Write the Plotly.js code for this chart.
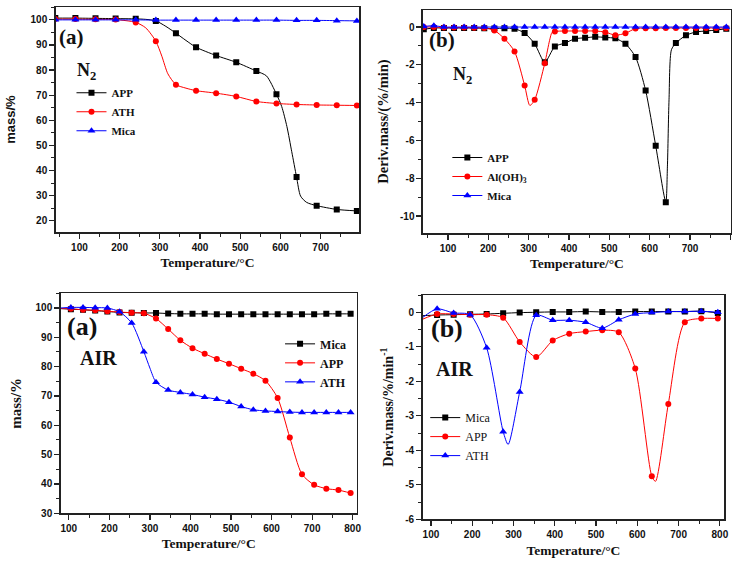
<!DOCTYPE html>
<html>
<head>
<meta charset="utf-8">
<script src="https://cdn.plot.ly/plotly-3.0.1.min.js"></script>
<style>
  body { margin: 0; background: #fff; }
  #chart { width: 737px; height: 563px; }
</style>
</head>
<body>
<div id="chart"></div>
<script>
// TG / DTG curves of APP, ATH and Mica under N2 and air

// (a) N2, mass %
const tgN2Temp = [40, 90, 140, 190, 240, 290, 340, 390, 440, 490, 540, 590, 640, 690, 740, 790];
const tgN2App = [100.7, 100.7, 100.6, 100.5, 100.4, 99.6, 94.7, 89.1, 85.8, 83.1, 79.6, 70.4, 37.4, 26.0, 24.5, 23.9];
const tgN2Ath = [100.3, 100.3, 100.2, 100.1, 99.0, 91.5, 74.2, 71.8, 70.8, 69.5, 67.5, 66.7, 66.3, 66.1, 66.0, 65.9];
const tgN2Mica = [100.0, 100.0, 100.0, 100.0, 100.0, 99.9, 99.9, 99.9, 99.9, 99.9, 99.9, 99.9, 99.8, 99.8, 99.7, 99.6];
// extra readings of the curves between the symbols
const tgN2AppMidT = [265, 315, 365, 565, 603, 616, 628, 650, 665];
const tgN2AppMid = [100.2, 97.4, 91.8, 77.7, 65.5, 57.5, 47.5, 29.8, 27.3];
const tgN2AthMidT = [265, 305, 320, 365];
const tgN2AthMid = [96.8, 85.5, 78.5, 72.8];

// (b) N2, derivative
const dtgN2Temp = [40, 65, 90, 115, 140, 165, 190, 215, 240, 265, 290, 315, 340, 365, 390, 415,
  440, 465, 490, 515, 540, 565, 590, 615, 640, 665, 690, 715, 740, 765, 790];
const dtgN2App = [-0.12, -0.05, -0.05, -0.05, -0.05, -0.05, -0.07, -0.08, -0.06, -0.09, -0.32, -0.89, -1.86, -1.03, -0.85, -0.62,
  -0.57, -0.52, -0.55, -0.60, -0.89, -1.59, -3.36, -6.28, -9.27, -0.85, -0.44, -0.26, -0.21, -0.16, -0.09];
const dtgN2Ath = [0.0, 0.0, -0.03, -0.03, -0.03, -0.04, -0.05, -0.18, -0.62, -1.29, -3.09, -3.85, -1.91, -0.23, -0.21, -0.21,
  -0.21, -0.21, -0.27, -0.43, -0.33, -0.08, -0.06, -0.06, -0.05, -0.05, -0.05, -0.05, -0.05, -0.05, -0.05];
const dtgN2Mica = [0.03, 0.07, 0.0, 0.0, 0.0, 0.0, 0.0, 0.0, 0.0, 0.0, 0.0, 0.0, 0.0, 0.0, 0.0, 0.0,
  0.0, 0.0, 0.0, 0.0, 0.0, 0.0, 0.0, 0.0, 0.0, 0.0, 0.0, 0.0, 0.0, 0.0, 0.0];
const dtgN2AppMidT = [644, 648, 654];
const dtgN2AppMid = [-7.4, -3.85, -1.2];
const dtgN2AthMidT = [303, 352, 358];
const dtgN2AthMid = [-4.15, -0.7, -0.28];

// (a) air, mass %
const tgAirTemp = [105, 135, 165, 195, 225, 255, 285, 315, 345, 375, 405, 435, 465, 495, 525, 555, 585, 615, 645, 675, 705, 735, 765, 795];
const tgAirMica = [99.6, 99.4, 99.1, 98.8, 98.5, 98.4, 98.3, 98.3, 98.1, 98.0, 98.0, 98.0, 97.9, 97.9, 97.9, 97.9, 97.9, 97.9, 97.9, 97.9, 97.9, 98.0, 98.0, 98.0];
const tgAirApp = [99.7, 99.4, 99.2, 98.9, 98.6, 98.4, 98.2, 96.4, 92.8, 89.0, 86.3, 84.4, 82.6, 81.0, 79.3, 77.6, 75.2, 69.3, 55.8, 43.3, 39.7, 38.4, 37.9, 36.9];
const tgAirAth = [100.2, 100.2, 100.1, 100.0, 98.7, 94.9, 85.1, 74.7, 72.0, 71.2, 70.5, 69.6, 68.9, 67.9, 66.4, 65.3, 64.9, 64.7, 64.5, 64.4, 64.4, 64.4, 64.4, 64.4];
const tgAirMicaMidT = [80];
const tgAirMicaMid = [99.8];
const tgAirAppMidT = [80];
const tgAirAppMid = [99.8];
const tgAirAthMidT = [80, 300];
const tgAirAthMid = [100.0, 79.5];

// (b) air, derivative
const dtgAirTemp = [115, 155, 195, 235, 275, 315, 355, 395, 435, 475, 515, 555, 595, 635, 675, 715, 755, 795];
const dtgAirMica = [-0.08, -0.07, -0.06, -0.05, -0.03, -0.01, 0.0, 0.01, 0.01, 0.02, 0.01, 0.01, 0.02, 0.02, 0.02, 0.02, 0.03, -0.02];
const dtgAirApp = [-0.05, -0.05, -0.07, -0.07, -0.16, -0.86, -1.30, -0.82, -0.62, -0.56, -0.52, -0.58, -1.63, -4.75, -2.66, -0.29, -0.18, -0.18];
const dtgAirAth = [0.1, -0.02, -0.07, -1.03, -3.46, -2.31, -0.09, -0.23, -0.23, -0.29, -0.46, -0.22, -0.05, -0.01, 0.02, 0.02, 0.03, 0.0];
const dtgAirMicaMidT = [80];
const dtgAirMicaMid = [-0.1];
const dtgAirAppMidT = [80, 644];
const dtgAirAppMid = [-0.2, -4.9];
const dtgAirAthMidT = [80, 287];
const dtgAirAthMid = [-0.15, -3.83];

// tick labels (plain hyphen minus like the original)
const dtgN2Ticks = [-10, -8, -6, -4, -2, 0];
const dtgN2TickText = ['-10', '-8', '-6', '-4', '-2', '0'];
const dtgAirTicks = [-6, -5, -4, -3, -2, -1, 0];
const dtgAirTickText = ['-6', '-5', '-4', '-3', '-2', '-1', '0'];

const BLACK = '#000000';
const RED = '#ff0000';
const BLUE = '#0000ff';
const SERIF = 'Liberation Serif';
const SANS = 'Liberation Sans';

// join symbol readings with the extra curve readings, sorted by temperature
function joinCurve(t1, v1, t2, v2) {
    const pts = t1.map((t, i) => [t, v1[i]]).concat(t2.map((t, i) => [t, v2[i]]));
    pts.sort((a, b) => a[0] - b[0]);
    return { x: pts.map(p => p[0]), y: pts.map(p => p[1]) };
}

const traces = [];
const legendItems = [];

function addSeries(n, name, color, symbol, temps, vals, midT, midV) {
    const xa = n === 1 ? 'x' : 'x' + n;
    const ya = n === 1 ? 'y' : 'y' + n;
    const curve = joinCurve(temps, vals, midT || [], midV || []);
    const size = symbol === 'triangle-up' ? 7 : 6;
    traces.push({
        x: curve.x, y: curve.y, xaxis: xa, yaxis: ya,
        type: 'scatter', mode: 'lines', showlegend: false, hoverinfo: 'skip',
        line: { color: color, width: 1, shape: 'spline', smoothing: 0.7 }
    });
    traces.push({
        x: temps, y: vals, xaxis: xa, yaxis: ya,
        type: 'scatter', mode: 'markers', showlegend: false, name: name,
        marker: { color: color, symbol: symbol, size: size }
    });
    // legend-only entry
    legendItems.push({
        x: [null], y: [null], xaxis: xa, yaxis: ya, name: name,
        type: 'scatter', mode: 'lines+markers', legend: n === 1 ? 'legend' : 'legend' + n,
        line: { color: color, width: 1 },
        marker: { color: color, symbol: symbol, size: size }
    });
}

addSeries(1, 'APP', BLACK, 'square', tgN2Temp, tgN2App, tgN2AppMidT, tgN2AppMid);
addSeries(1, 'ATH', RED, 'circle', tgN2Temp, tgN2Ath, tgN2AthMidT, tgN2AthMid);
addSeries(1, 'Mica', BLUE, 'triangle-up', tgN2Temp, tgN2Mica);

addSeries(2, 'APP', BLACK, 'square', dtgN2Temp, dtgN2App, dtgN2AppMidT, dtgN2AppMid);
addSeries(2, 'Al(OH)<sub>3</sub>', RED, 'circle', dtgN2Temp, dtgN2Ath, dtgN2AthMidT, dtgN2AthMid);
addSeries(2, 'Mica', BLUE, 'triangle-up', dtgN2Temp, dtgN2Mica);

addSeries(3, 'Mica', BLACK, 'square', tgAirTemp, tgAirMica, tgAirMicaMidT, tgAirMicaMid);
addSeries(3, 'APP', RED, 'circle', tgAirTemp, tgAirApp, tgAirAppMidT, tgAirAppMid);
addSeries(3, 'ATH', BLUE, 'triangle-up', tgAirTemp, tgAirAth, tgAirAthMidT, tgAirAthMid);

addSeries(4, 'Mica', BLACK, 'square', dtgAirTemp, dtgAirMica, dtgAirMicaMidT, dtgAirMicaMid);
addSeries(4, 'APP', RED, 'circle', dtgAirTemp, dtgAirApp, dtgAirAppMidT, dtgAirAppMid);
addSeries(4, 'ATH', BLUE, 'triangle-up', dtgAirTemp, dtgAirAth, dtgAirAthMidT, dtgAirAthMid);

// Origin-like boxed axes
function baseAxis(domain, range, anchor) {
    return {
        domain: domain, range: range, anchor: anchor,
        showline: true, mirror: true, linecolor: '#222', linewidth: 1.5,
        ticks: 'outside', ticklen: 5, tickwidth: 1.2, tickcolor: '#222',
        showgrid: false, zeroline: false,
        tickfont: { family: SANS, size: 10, weight: 'bold', color: '#111' }
    };
}

function xAxis(domain, range, anchor) {
    return Object.assign(baseAxis(domain, range, anchor), {
        tick0: 0, dtick: 100,
        minor: { ticks: 'outside', ticklen: 3, tick0: 0, dtick: 50, tickcolor: '#222', tickwidth: 1 },
        title: { text: 'Temperature/°C', standoff: 6, font: { family: SERIF, size: 13.5, weight: 'bold', color: '#111' } }
    });
}

function legendBox(x, y, weight, size) {
    return {
        x: x, y: y, xanchor: 'left', yanchor: 'top',
        bgcolor: 'rgba(0,0,0,0)', borderwidth: 0, tracegroupgap: 0,
        font: { family: SERIF, size: size, weight: weight, color: '#111' }
    };
}

function label(text, x, y, size) {
    return {
        text: text, xref: 'paper', yref: 'paper', x: x / 737, y: 1 - y / 563,
        xanchor: 'center', yanchor: 'middle', showarrow: false,
        font: { family: SERIF, size: size, weight: 'bold', color: '#111' }
    };
}

const layout = {
    width: 737, height: 563,
    margin: { l: 0, r: 0, t: 0, b: 0 },
    paper_bgcolor: '#fff', plot_bgcolor: '#fff',
    showlegend: true,
    font: { family: SANS, color: '#111' },

    xaxis: xAxis([0.0756, 0.4875], [41, 796], 'y'),
    yaxis: Object.assign(baseAxis([0.5879, 0.9870], [15.5, 105], 'x'), {
        tick0: 0, dtick: 10,
        minor: { ticks: 'outside', ticklen: 3, tick0: 0, dtick: 5, tickcolor: '#222', tickwidth: 1 },
        title: { text: 'mass/%', standoff: 12, font: { family: SANS, size: 13, weight: 'bold', color: '#111' } }
    }),

    xaxis2: xAxis([0.5739, 0.9915], [38, 801], 'y2'),
    yaxis2: Object.assign(baseAxis([0.5861, 0.9822], [-10.9, 0.9], 'x2'), {
        tickmode: 'array', tickvals: dtgN2Ticks, ticktext: dtgN2TickText,
        minor: { ticks: 'outside', ticklen: 3, tickmode: 'linear', tick0: 0, dtick: 1, tickcolor: '#222', tickwidth: 1 },
        title: { text: 'Deriv.mass/(%/min)', standoff: 8, font: { family: SERIF, size: 14.5, weight: 'bold', color: '#111' } }
    }),

    xaxis3: xAxis([0.0824, 0.4840], [80, 810], 'y3'),
    yaxis3: Object.assign(baseAxis([0.0883, 0.4790], [30, 105], 'x3'), {
        tick0: 0, dtick: 10,
        minor: { ticks: 'outside', ticklen: 3, tick0: 0, dtick: 5, tickcolor: '#222', tickwidth: 1 },
        title: { text: 'mass/%', standoff: 10, font: { family: SERIF, size: 15, weight: 'bold', color: '#111' } }
    }),

    xaxis4: xAxis([0.5735, 0.9824], [80, 810], 'y4'),
    yaxis4: Object.assign(baseAxis([0.0776, 0.4760], [-6, 0.5], 'x4'), {
        tickmode: 'array', tickvals: dtgAirTicks, ticktext: dtgAirTickText,
        minor: { ticks: 'outside', ticklen: 3, tickmode: 'linear', tick0: 0, dtick: 0.5, tickcolor: '#222', tickwidth: 1 },
        title: { text: 'Deriv.mass/%/min<sup>-1</sup>', standoff: 8, font: { family: SERIF, size: 14, weight: 'bold', color: '#111' } }
    }),

    legend: legendBox(0.097, 0.861, 'bold', 11),
    legend2: legendBox(0.607, 0.746, 'bold', 11),
    legend3: legendBox(0.380, 0.415, 'bold', 12),
    legend4: legendBox(0.577, 0.284, 'normal', 12),

    annotations: [
        label('(a)', 71, 37, 21),
        label('N<sub>2</sub>', 86, 71, 18),
        label('(b)', 442, 40, 21),
        label('N<sub>2</sub>', 462, 75, 18),
        label('(a)', 82, 326, 26),
        label('AIR', 98, 358, 20),
        label('(b)', 447, 328, 26),
        label('AIR', 454, 369, 20)
    ]
};

Plotly.newPlot('chart', traces.concat(legendItems), layout, { displayModeBar: false, staticPlot: true });
</script>
</body>
</html>
